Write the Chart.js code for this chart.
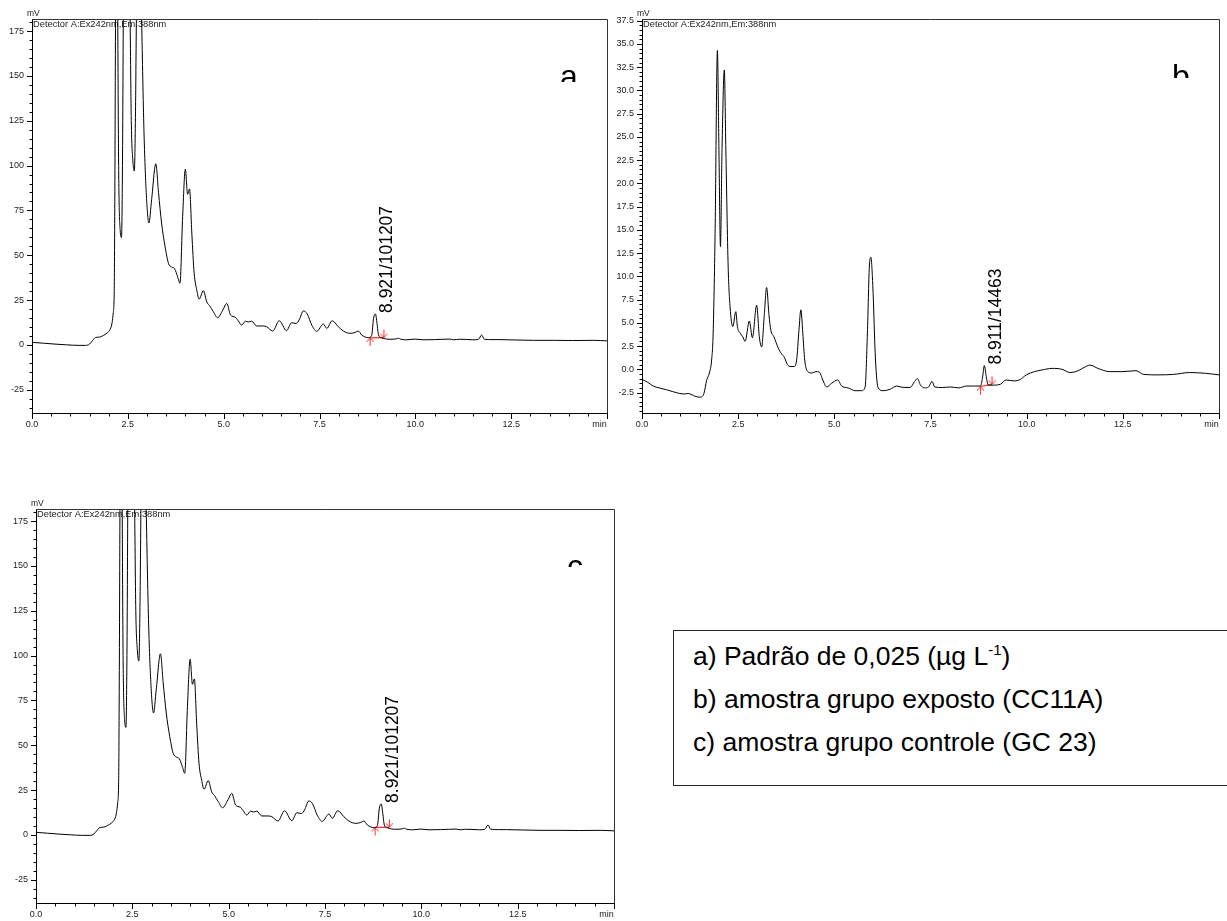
<!DOCTYPE html>
<html>
<head>
<meta charset="utf-8">
<script src="https://cdn.jsdelivr.net/npm/chart.js@4.4.1/dist/chart.umd.min.js"></script>
<style>
  html, body { margin:0; padding:0; background:#fff; width:1227px; height:921px; overflow:hidden; }
  canvas { position:absolute; }
  #legendBox { position:absolute; left:673px; top:630px; width:580px; height:156px; border:1.5px solid #222;
    box-sizing:border-box; font-family:"Liberation Sans", Arial, sans-serif; font-size:26.5px; color:#000; }
  #legendBox .ln { position:absolute; left:19px; height:32px; line-height:32px; white-space:nowrap; }
  #legendBox sup { font-size:15px; position:relative; top:-1px; vertical-align:top; line-height:22px; }
</style>
</head>
<body>
<canvas id="cA" width="625" height="440" style="left:0;top:0"></canvas>
<canvas id="cB" width="622" height="440" style="left:605px;top:0"></canvas>
<canvas id="cC" width="625" height="431" style="left:0;top:490px"></canvas>
<div id="legendBox">
  <div class="ln" style="top:8.5px">a) Padrão de 0,025 (µg L<sup>-1</sup>)</div>
  <div class="ln" style="top:51.5px">b) amostra grupo exposto (CC11A)</div>
  <div class="ln" style="top:94.5px">c) amostra grupo controle (GC 23)</div>
</div>
<script>
// ---------------- data ----------------
// chromatogram a (also reproduced identically in panel c), time in min, signal in mV
const timeA = [0,0.3,0.6,0.9,1.2,1.4,1.5,1.58,1.66,1.76,1.86,1.96,2.04,2.09,2.12,2.145,2.16,2.18,2.205,2.235,
  2.26,2.30,2.335,2.36,2.39,2.45,2.52,2.555,2.59,2.63,2.67,2.70,2.725,2.80,2.86,2.92,2.98,3.05,3.12,3.23,
  3.30,3.38,3.47,3.56,3.64,3.72,3.80,3.86,3.93,4.00,4.06,4.11,4.17,4.23,4.30,4.36,4.47,4.56,4.63,4.73,
  4.84,4.98,5.08,5.18,5.30,5.38,5.47,5.57,5.64,5.73,5.86,6.03,6.12,6.28,6.45,6.64,6.77,6.89,6.97,7.08,
  7.18,7.30,7.43,7.60,7.69,7.83,7.99,8.12,8.30,8.43,8.51,8.60,8.77,8.86,8.91,8.96,9.00,9.04,9.12,9.34,
  9.50,9.56,9.62,9.78,9.99,10.2,10.5,10.9,11.0,11.15,11.34,11.5,11.65,11.73,11.8,12.0,12.21,12.6,13.08,13.6,
  14.1,14.64,15.0];
const mvA = [1.5,1.0,0.5,0.1,-0.2,-0.2,0.5,2.5,4.2,4.4,5.3,6.7,8.8,12.5,18,30,80,190,320,190,
  100,64,60,100,210,300,230,190,125,103,97,130,185,260,182,120,85,68,81,101,
  85,68,55,45.5,43.5,42.5,38,34.4,71.5,98,84,87,62,40,30.5,25.5,30.3,24,22,18.6,
  15.2,19.5,23.2,16.7,15.5,13.5,11.1,13.3,12.8,13.3,10.6,10.6,10.2,7.8,13.5,8.0,12.4,12.0,14.0,19.0,
  17.3,11.0,7.6,11.7,9.3,13.5,10.2,7.8,6.5,7.0,7.8,5.6,4.1,5.2,14.9,17.3,12.0,5.6,4.0,3.2,
  3.4,3.8,3.2,2.9,3.3,2.9,3.0,3.3,2.9,3.2,3.1,2.9,3.2,5.6,3.2,3.0,3.0,2.8,2.6,2.6,
  2.5,2.6,2.3];
// chromatogram b
const timeB = [0,0.15,0.29,0.45,0.64,0.8,0.98,1.1,1.2,1.3,1.38,1.51,1.61,1.68,1.75,1.81,1.85,1.9,1.96,2.0,
  2.04,2.08,2.14,2.18,2.24,2.29,2.36,2.44,2.48,2.55,2.62,2.68,2.79,2.87,2.98,3.05,3.11,3.18,3.24,3.3,
  3.35,3.43,3.54,3.63,3.7,3.78,3.87,3.95,4.02,4.08,4.13,4.18,4.23,4.31,4.41,4.52,4.61,4.7,4.8,4.93,
  5.09,5.19,5.36,5.54,5.71,5.8,5.86,5.91,5.95,6.0,6.07,6.14,6.27,6.45,6.62,6.79,6.97,7.09,7.16,7.24,
  7.35,7.45,7.54,7.61,7.81,8.02,8.23,8.44,8.64,8.8,8.85,8.9,8.95,9.0,9.16,9.32,9.47,9.68,9.83,9.99,
  10.2,10.4,10.66,10.92,11.13,11.34,11.49,11.65,11.85,12.16,12.48,12.84,13.04,13.41,13.82,14.23,14.65,15.0];
const mvB = [-1.08,-1.4,-1.8,-2.0,-2.2,-2.4,-2.6,-2.65,-2.6,-2.75,-2.9,-3.0,-2.6,-1.2,-0.4,1.0,3.9,14.6,34.3,23.6,
  13.2,23.6,32.2,23.6,11.0,6.7,4.6,6.2,4.6,3.9,3.5,3.0,5.2,3.4,6.9,3.5,2.4,5.9,8.8,5.9,
  4.2,3.5,2.3,1.65,1.3,0.5,0.3,0.3,1.0,4.2,6.4,3.9,1.0,-0.25,-0.4,-0.25,-0.3,-1.15,-1.9,-1.5,
  -1.15,-1.8,-2.0,-2.3,-2.3,-1.9,3.9,11.0,12.05,9.0,1.0,-2.0,-2.3,-2.15,-1.8,-1.95,-1.95,-1.3,-1.0,-1.7,
  -2.0,-1.9,-1.3,-1.9,-1.96,-1.9,-2.0,-1.8,-1.8,-1.8,-0.96,0.4,-0.8,-1.7,-1.7,-1.6,-1.15,-1.25,-1.1,-0.6,
  -0.25,-0.07,0.1,0.0,-0.35,-0.15,0.2,0.45,0.1,-0.25,-0.25,-0.15,-0.55,-0.6,-0.55,-0.35,-0.43,-0.6];
// integration baselines (red) : start / end
const baseTimeA = [8.82, 9.18];
const baseMvA   = [4.0, 4.1];
const baseTimeC = [8.80, 9.17];
const baseMvC   = [4.2, 4.3];
const baseTimeB = [8.80, 9.10];
const baseMvB   = [-1.85, -1.62];
// peak annotations
const peakLabels = ['8.921/101207', '8.911/14463', '8.921/101207'];
const peakTimes  = [8.96, 8.90, 8.96];
const peakMvs    = [17.3, 0.4, 17.3];
const panelLetters = ['a', 'b', 'c'];
const detectorText = 'Detector A:Ex242nm,Em:388nm';
// axis ticks
const xMajorValues = [0, 2.5, 5, 7.5, 10, 12.5, 15];
const xMajorLabels = ['0.0', '2.5', '5.0', '7.5', '10.0', '12.5', 'min      '];
const yMajorValuesAC = [-25, 0, 25, 50, 75, 100, 125, 150, 175];
const yMajorLabelsAC = ['-25', '0', '25', '50', '75', '100', '125', '150', '175'];
const yMajorValuesB = [-2.5, 0, 2.5, 5, 7.5, 10, 12.5, 15, 17.5, 20, 22.5, 25, 27.5, 30, 32.5, 35, 37.5];
const yMajorLabelsB = ['-2.5','0.0','2.5','5.0','7.5','10.0','12.5','15.0','17.5','20.0','22.5','25.0','27.5','30.0','32.5','35.0','37.5'];

// ---------------- helpers ----------------
const FONT = '"Liberation Sans", Arial, sans-serif';
function pts(ts, vs) { return ts.map((t, i) => ({x: t, y: vs[i]})); }
function labelFor(values, labels) {
  return v => { const i = values.findIndex(m => Math.abs(m - v) < 1e-6); return i >= 0 ? labels[i] : ''; };
}
function arrow(up) {
  const c = document.createElement('canvas'); c.width = 9; c.height = 20;
  const g = c.getContext('2d'); g.strokeStyle = '#ff2a2a'; g.lineWidth = 1;
  g.beginPath();
  if (up) { g.moveTo(4.5, 10); g.lineTo(4.5, 18); g.moveTo(1, 14); g.lineTo(4.5, 10); g.lineTo(8, 14); }
  else { g.moveTo(4.5, 10); g.lineTo(4.5, 2); g.moveTo(1, 6); g.lineTo(4.5, 10); g.lineTo(8, 6); }
  g.stroke(); return c;
}
const upArrow = arrow(true), downArrow = arrow(false);

const decor = {
  id: 'decor',
  beforeDatasetsDraw(chart, args, o) {
    const {ctx, chartArea: a} = chart;
    ctx.save();
    ctx.fillStyle = '#222'; ctx.textAlign = 'left'; ctx.textBaseline = 'middle';
    ctx.font = '8.5px ' + FONT;
    ctx.fillText('mV', a.left - 5, a.top - 5);
    ctx.font = '9.3px ' + FONT;
    ctx.fillText(detectorText, a.left + 1, a.top + 5.5);
    // large panel letter, clipped like in the reference
    ctx.beginPath(); ctx.rect(a.left, a.top, a.right - a.left, o.letterClip); ctx.clip();
    ctx.fillStyle = '#000'; ctx.textBaseline = 'alphabetic';
    ctx.font = '32px ' + FONT;
    ctx.fillText(o.letter, a.right - 47, a.top + 68);
    ctx.restore();
  },
  afterDraw(chart, args, o) {
    const {ctx, chartArea: a} = chart;
    const xs = chart.scales.x, ys = chart.scales.y;
    ctx.save();
    // frame (top and right)
    ctx.strokeStyle = '#333'; ctx.lineWidth = 1;
    ctx.beginPath();
    ctx.moveTo(a.left, Math.round(a.top) + 0.5);
    ctx.lineTo(Math.round(a.right) + 0.5, Math.round(a.top) + 0.5);
    ctx.lineTo(Math.round(a.right) + 0.5, a.bottom);
    ctx.stroke();
    // tick marks (major longer)
    ctx.strokeStyle = '#000';
    ctx.beginPath();
    xs.ticks.forEach(t => {
      const px = Math.round(xs.getPixelForValue(t.value)) + 0.5;
      const len = t.label !== '' ? 6 : 3.5;
      ctx.moveTo(px, a.bottom); ctx.lineTo(px, a.bottom + len);
    });
    ys.ticks.forEach(t => {
      const py = Math.round(ys.getPixelForValue(t.value)) + 0.5;
      const len = t.label !== '' ? 5 : 2.5;
      ctx.moveTo(a.left, py); ctx.lineTo(a.left - len, py);
    });
    ctx.stroke();
    // rotated peak label
    const px = xs.getPixelForValue(o.peakT) + 17;
    const py = ys.getPixelForValue(o.peakV) - 1;
    ctx.translate(px, py); ctx.rotate(-Math.PI / 2);
    ctx.fillStyle = '#000'; ctx.font = '17.5px ' + FONT;
    ctx.textAlign = 'left'; ctx.textBaseline = 'alphabetic';
    ctx.fillText(o.peakLabel, 0, 0);
    ctx.restore();
  }
};

function makePanel(id, cfg) {
  const tickFont = {family: 'Liberation Sans', size: 9};
  return new Chart(document.getElementById(id), {
    type: 'line',
    data: {
      datasets: [
        { data: pts(cfg.t, cfg.v), borderColor: '#000', borderWidth: 1, pointRadius: 0,
          cubicInterpolationMode: 'monotone', fill: false },
        { data: pts(cfg.bt, cfg.bv), borderColor: '#ff2a2a', borderWidth: 1.2,
          pointRadius: 3, pointStyle: [upArrow, downArrow], fill: false }
      ]
    },
    options: {
      responsive: false, animation: false, devicePixelRatio: 1,
      layout: { padding: { top: cfg.padTop, right: cfg.padRight, left: 0, bottom: 0 } },
      plugins: { legend: { display: false }, tooltip: { enabled: false },
        decor: { letter: cfg.letter, letterClip: cfg.letterClip, peakLabel: cfg.peakLabel, peakT: cfg.peakT, peakV: cfg.peakV } },
      scales: {
        x: { type: 'linear', position: 'bottom', min: 0, max: 15,
          afterFit: s => { s.height = cfg.xH; s.paddingLeft = 0; s.paddingRight = 0; },
          border: { display: true, color: '#000', width: 1 },
          grid: { display: false, drawTicks: true, tickLength: 5 },
          ticks: { stepSize: 0.5, autoSkip: false, maxRotation: 0, minRotation: 0, includeBounds: false,
            padding: 1, color: '#222', font: tickFont, callback: labelFor(xMajorValues, xMajorLabels) } },
        y: { type: 'linear', min: cfg.yMin, max: cfg.yMax,
          afterFit: s => { s.width = cfg.yW; s.paddingTop = 0; s.paddingBottom = 0; },
          border: { display: true, color: '#000', width: 1 },
          grid: { display: false, drawTicks: true, tickLength: 5 },
          ticks: { stepSize: cfg.yStep, autoSkip: false, includeBounds: false, padding: 3,
            color: '#222', font: tickFont, callback: labelFor(cfg.yMajV, cfg.yMajL) } }
      }
    },
    plugins: [decor]
  });
}

makePanel('cA', { t: timeA, v: mvA, bt: baseTimeA, bv: baseMvA, letter: panelLetters[0], letterClip: 63,
  peakLabel: peakLabels[0], peakT: peakTimes[0], peakV: peakMvs[0],
  padTop: 19, padRight: 18, xH: 27, yW: 32, yMin: -37.9, yMax: 181.7, yStep: 5,
  yMajV: yMajorValuesAC, yMajL: yMajorLabelsAC });
makePanel('cB', { t: timeB, v: mvB, bt: baseTimeB, bv: baseMvB, letter: panelLetters[1], letterClip: 59,
  peakLabel: peakLabels[1], peakT: peakTimes[1], peakV: peakMvs[1],
  padTop: 19, padRight: 8, xH: 27, yW: 37, yMin: -4.7, yMax: 37.68, yStep: 0.5,
  yMajV: yMajorValuesB, yMajL: yMajorLabelsB });
makePanel('cC', { t: timeA, v: mvA, bt: baseTimeC, bv: baseMvC, letter: panelLetters[2], letterClip: 58,
  peakLabel: peakLabels[2], peakT: peakTimes[2], peakV: peakMvs[2],
  padTop: 19, padRight: 11, xH: 18, yW: 36, yMin: -37.9, yMax: 181.7, yStep: 5,
  yMajV: yMajorValuesAC, yMajL: yMajorLabelsAC });
</script>
</body>
</html>
